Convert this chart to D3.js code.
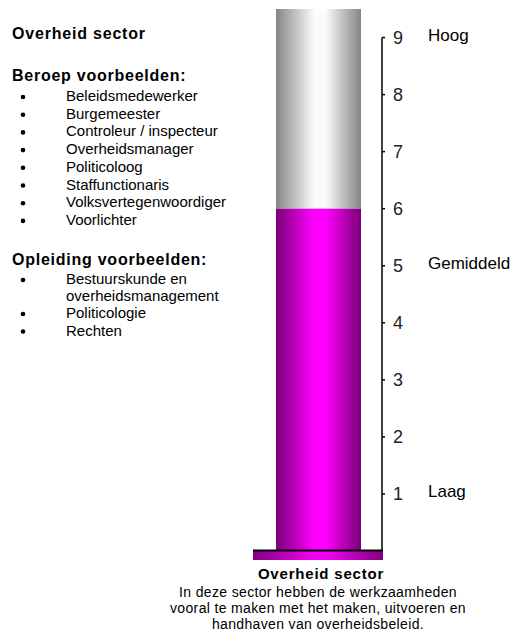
<!DOCTYPE html>
<html>
<head>
<meta charset="utf-8">
<script src="https://cdn.jsdelivr.net/npm/d3@7"></script>
<style>
  body { margin: 0; background: #fff; }
  text { font-family: "Liberation Sans", Arial, sans-serif; fill: #000; }
</style>
</head>
<body>
<svg width="515" height="635"></svg>
<script>
// chart data
var sectorName = "Overheid sector";
var score = 6;
var scaleTop = 9.5;
var tickValues = [1, 2, 3, 4, 5, 6, 7, 8, 9];
var levelValues = [9, 5, 1];
var levelLabels = ["Hoog", "Gemiddeld", "Laag"];
var beroepen = ["Beleidsmedewerker", "Burgemeester", "Controleur / inspecteur",
    "Overheidsmanager", "Politicoloog", "Staffunctionaris",
    "Volksvertegenwoordiger", "Voorlichter"];
var opleidingen = [["Bestuurskunde en", "overheidsmanagement"], ["Politicologie"], ["Rechten"]];
var description = ["In deze sector hebben de werkzaamheden",
    "vooral te maken met het maken, uitvoeren en",
    "handhaven van overheidsbeleid."];

var svg = d3.select("svg");

var y = d3.scaleLinear().domain([0, scaleTop]).range([551, 9]);
var x = d3.scaleBand().domain([sectorName]).range([276, 361]).padding(0);

var defs = svg.append("defs");
function cylGrad(id, dark, light) {
    var g = defs.append("linearGradient").attr("id", id)
        .attr("x1", "0%").attr("x2", "100%").attr("y1", "0%").attr("y2", "0%");
    g.append("stop").attr("offset", "0%").attr("stop-color", dark);
    g.append("stop").attr("offset", "45%").attr("stop-color", light);
    g.append("stop").attr("offset", "58%").attr("stop-color", light);
    g.append("stop").attr("offset", "100%").attr("stop-color", dark);
}
cylGrad("gray", "#858585", "#fbfbfb");
cylGrad("magenta", "#7a0078", "#ff00ff");
cylGrad("plate", "#800080", "#f000f0");

// empty part of the tube
svg.append("rect")
    .attr("x", x(sectorName))
    .attr("width", x.bandwidth())
    .attr("y", y(scaleTop))
    .attr("height", y(score) - y(scaleTop))
    .attr("fill", "url(#gray)");

// filled part
svg.selectAll(".bar")
    .data([score])
    .enter().append("rect")
    .attr("class", "bar")
    .attr("x", x(sectorName))
    .attr("width", x.bandwidth())
    .attr("y", function(d) { return y(d); })
    .attr("height", function(d) { return y(0) - y(d); })
    .attr("fill", "url(#magenta)");

// base plate
svg.append("rect")
    .attr("x", 253).attr("width", 130)
    .attr("y", y(0)).attr("height", 9)
    .attr("fill", "url(#plate)");
svg.append("line")
    .attr("x1", 253).attr("x2", 383)
    .attr("y1", y(0) - 0.5).attr("y2", y(0) - 0.5)
    .attr("stroke", "#000").attr("stroke-width", 2);

// axis
var axis = svg.append("g").attr("transform", "translate(382,0)");
axis.append("line")
    .attr("x1", 0).attr("x2", 0)
    .attr("y1", y(9)).attr("y2", y(0))
    .attr("stroke", "#000").attr("stroke-width", 1.5);
axis.selectAll(".tick")
    .data(tickValues)
    .enter().append("line")
    .attr("x1", 0).attr("x2", 3)
    .attr("y1", function(d) { return y(d); })
    .attr("y2", function(d) { return y(d); })
    .attr("stroke", "#000").attr("stroke-width", 1.5);
axis.selectAll(".tlabel")
    .data(tickValues)
    .enter().append("text")
    .attr("x", 11)
    .attr("y", function(d) { return y(d); })
    .attr("dy", "0.36em")
    .style("font-size", "18px")
    .style("fill", "#222")
    .text(function(d) { return d; });
axis.selectAll(".level")
    .data(levelValues)
    .enter().append("text")
    .attr("x", 46)
    .attr("y", function(d) { return y(d); })
    .attr("dy", "0.2em")
    .style("font-size", "17px")
    .text(function(d, i) { return levelLabels[i]; });

// caption under the tube
svg.append("text")
    .attr("x", 321).attr("y", 579)
    .attr("text-anchor", "middle")
    .style("font-size", "15px").style("font-weight", "bold")
    .style("letter-spacing", "0.8px")
    .text(sectorName);
svg.selectAll(".desc")
    .data(description)
    .enter().append("text")
    .attr("x", 318)
    .attr("y", function(d, i) { return 597 + i * 16; })
    .attr("text-anchor", "middle")
    .style("font-size", "14px")
    .style("letter-spacing", "0.35px")
    .text(function(d) { return d; });

// left hand text block
svg.append("text").attr("x", 12).attr("y", 39)
    .style("font-size", "16px").style("font-weight", "bold")
    .style("letter-spacing", "0.8px")
    .text(sectorName);
svg.append("text").attr("x", 12).attr("y", 81)
    .style("font-size", "16px").style("font-weight", "bold")
    .style("letter-spacing", "0.75px")
    .text("Beroep voorbeelden:");

var list1 = svg.selectAll(".b1")
    .data(beroepen)
    .enter().append("g")
    .attr("transform", function(d, i) { return "translate(0," + (101 + i * 17.7) + ")"; });
list1.append("circle").attr("cx", 23).attr("cy", -4).attr("r", 2.3).attr("fill", "#000");
list1.append("text").attr("x", 66).style("font-size", "15px").text(function(d) { return d; });

svg.append("text").attr("x", 12).attr("y", 265)
    .style("font-size", "16px").style("font-weight", "bold")
    .style("letter-spacing", "0.75px")
    .text("Opleiding voorbeelden:");

var yy = 284;
opleidingen.forEach(function(item) {
    svg.append("circle").attr("cx", 23).attr("cy", yy - 4).attr("r", 2.3).attr("fill", "#000");
    item.forEach(function(line, j) {
        svg.append("text").attr("x", 66).attr("y", yy + j * 16.5)
            .style("font-size", "15px").text(line);
    });
    yy += (item.length - 1) * 16.5 + 17.5;
});
</script>
</body>
</html>
